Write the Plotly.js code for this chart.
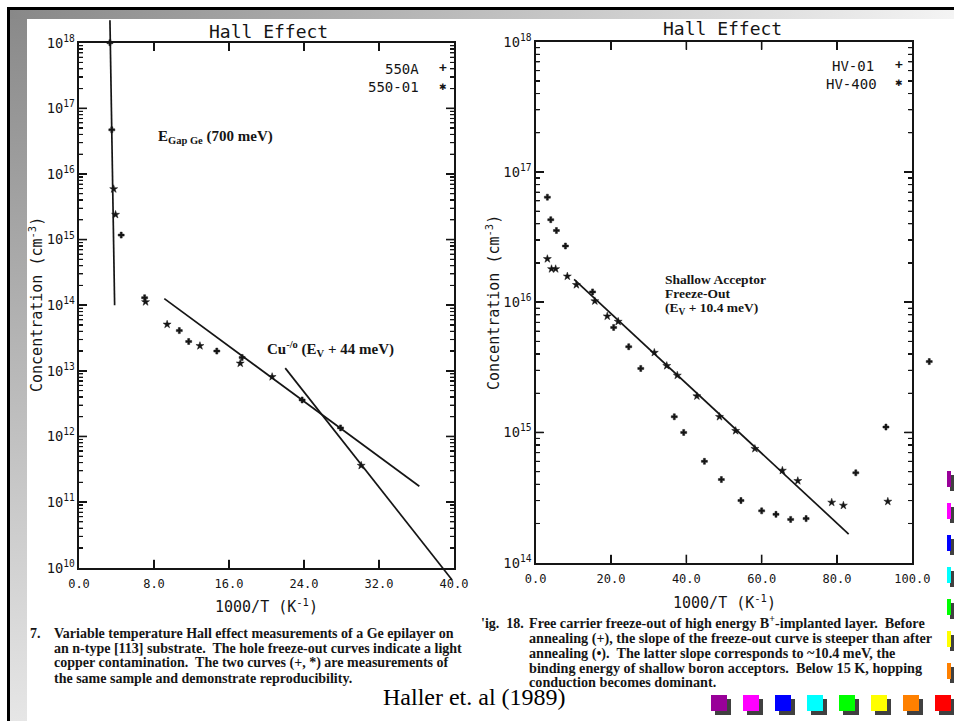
<!DOCTYPE html>
<html>
<head>
<meta charset="utf-8">
<script src="https://cdn.plot.ly/plotly-3.0.1.min.js"></script>
<style>
html,body{margin:0;padding:0;background:#fff;}
#deco{position:absolute;left:0;top:0;width:954px;height:721px;overflow:hidden;}
#deco div{position:absolute;}
#chart{position:absolute;left:0;top:0;width:954px;height:721px;}
</style>
</head>
<body>
<div id="deco"></div>
<div id="chart"></div>
<script>
// ---------------- DATA ----------------
// Left panel (Ge epilayer) : 1000/T (K^-1) vs concentration (cm^-3)
const leftPlusX  = [3.3, 3.5, 4.5, 7.0, 10.7, 11.7, 14.7, 17.4, 23.8, 27.9];
const leftPlusY  = [1.0e18, 4.7e16, 1.17e15, 1.3e14, 4.1e13, 2.8e13, 2.0e13, 1.6e13, 3.6e12, 1.35e12];
const leftStarX  = [3.7, 3.9, 7.1, 9.4, 12.9, 17.2, 20.6, 30.1];
const leftStarY  = [5.9e15, 2.4e15, 1.12e14, 5.1e13, 2.4e13, 1.3e13, 8.1e12, 3.6e11];
// fitted lines (left)
const gapLineX   = [3.3, 3.8];
const gapLineY   = [2.2e18, 1.0e14];
const cuLineX    = [9.1, 36.3];
const cuLineY    = [1.26e14, 1.74e11];
const steepLineX = [22.0, 39.8];
const steepLineY = [1.1e13, 6.5e9];

// Right panel (B+-implanted layer)
const hv01X  = [3.1, 4.0, 5.5, 7.9, 15.1, 20.7, 24.7, 27.9, 36.8, 39.3, 44.8, 49.3, 54.5, 60.0, 63.8, 67.7, 71.8, 85.0, 93.0, 104.5];
const hv01Y  = [6.4e16, 4.3e16, 3.55e16, 2.7e16, 1.2e16, 6.4e15, 4.55e15, 3.1e15, 1.32e15, 1.0e15, 6.0e14, 4.35e14, 3.0e14, 2.5e14, 2.35e14, 2.15e14, 2.18e14, 4.9e14, 1.1e15, 3.5e15];
const hv400X = [3.1, 4.2, 5.3, 8.4, 10.8, 15.7, 19.0, 21.9, 31.5, 34.8, 37.6, 42.8, 48.8, 53.1, 58.2, 65.5, 69.6, 78.6, 81.7, 93.5];
const hv400Y = [2.15e16, 1.8e16, 1.8e16, 1.58e16, 1.36e16, 1.02e16, 7.8e15, 7.1e15, 4.1e15, 3.25e15, 2.74e15, 1.9e15, 1.32e15, 1.03e15, 7.5e14, 5.1e14, 4.25e14, 2.9e14, 2.75e14, 2.95e14];
const acceptorLineX = [10.2, 83.1];
const acceptorLineY = [1.5e16, 1.66e14];

// tick values
const leftXTicks = [8, 16, 24, 32];
const rightXTicks = [20, 40, 60, 80];
const leftDecades = [10, 11, 12, 13, 14, 15, 16, 17, 18];
const rightDecades = [14, 15, 16, 17, 18];
const minorMultipliers = [2, 3, 4, 5, 6, 7, 8, 9];

// text
const xTitleText = '1000/T (K<sup>-1</sup>)';
const yTitleText = 'Concentration (cm<sup>-3</sup>)';
const leftCaption = [
  "Variable temperature Hall effect measurements of a Ge epilayer on",
  "an n-type [113] substrate.  The hole freeze-out curves indicate a light",
  "copper contamination.  The two curves (+, *) are measurements of",
  "the same sample and demonstrate reproducibility."
];
const rightCaption = [
  "Free carrier freeze-out of high energy B<sup>+</sup>-implanted layer.  Before",
  "annealing (+), the slope of the freeze-out curve is steeper than after",
  "annealing (•).  The latter slope corresponds to ~10.4 meV, the",
  "binding energy of shallow boron acceptors.  Below 15 K, hopping",
  "conduction becomes dominant."
];
const swatchColors = ['#990099', '#ff00ff', '#0000ff', '#00ffff', '#00ff00', '#ffff00', '#ff8000', '#ff0000'];

// ---------------- SLIDE DECORATION (HTML, behind the chart) ----------------
const deco = document.getElementById('deco');
function box(l, t, w, h, bg) {
  const d = document.createElement('div');
  d.style.left = l + 'px'; d.style.top = t + 'px'; d.style.width = w + 'px'; d.style.height = h + 'px';
  d.style.background = bg; deco.appendChild(d);
}
box(10, 10, 944, 9, 'linear-gradient(to right, #888888, #f4f4f4)');
box(10, 19, 17, 702, 'linear-gradient(to bottom, #8a8a8a, #e6e6e6)');
box(7, 7, 947, 3, '#000');
box(7, 7, 3, 714, '#000');
swatchColors.forEach((c, i) => {
  const x0 = 711 + 32 * i;
  box(x0 + 4, 699, 16, 16, '#404040');
  box(x0, 695, 16, 16, c);
});
swatchColors.slice(0, 7).forEach((c, i) => {
  const y0 = 471 + 32 * i;
  box(950, y0 + 4, 4, 16, '#404040');
  box(947, y0, 4, 16, c);
});

// ---------------- LAYOUT HELPERS ----------------
const W = 954, H = 721;
const px = x => x / W;
const py = y => 1 - y / H;
const MONO = 'DejaVu Sans Mono';
const SERIF = 'Liberation Serif';
const INK = '#151515';

const leftX = [px(79), px(454)], leftY = [py(567.7), py(42.7)];
const rightX = [px(535.7), px(912.3)], rightY = [py(562.7), py(41.7)];
const extY = [py(586), py(14)];
const extRX = [rightX[0], px(945)];
const leftRange = [10, 18], rightRange = [14, 18];
const leftXRange = [0, 40], rightXRange = [0, 100];
function extend(range, dom, ext) {
  const s = (range[1] - range[0]) / (dom[1] - dom[0]);
  return [range[0] + (ext[0] - dom[0]) * s, range[0] + (ext[1] - dom[0]) * s];
}

const axisBase = () => ({
  showline: true, linecolor: INK, linewidth: 2, mirror: 'ticks',
  ticks: 'inside', ticklen: 8, tickwidth: 1.6, tickcolor: INK, layer: 'above traces',
  showgrid: false, zeroline: false,
  tickfont: {family: MONO, size: 12, color: INK}
});
const minorY = () => ({ticks: 'inside', ticklen: 4, tickwidth: 1.2, tickcolor: INK, showgrid: false, dtick: 'D1'});

// ---------------- TICK MARKS (drawn on each frame, positioned in axis-domain units) ----------------
const shapes = [];
function tickLine(xref, yref, x0, x1, y0, y1, w) {
  shapes.push({type: 'line', layer: 'above', xref: xref, yref: yref, x0: x0, x1: x1, y0: y0, y1: y1,
               line: {color: INK, width: w}});
}
function yTicks(ax, xDom, yDom, range, decades, lenMajor, lenMinor) {
  const wpx = (xDom[1] - xDom[0]) * W;
  const xr = ax.x + ' domain', yr = ax.y + ' domain';
  const frac = v => (Math.log10(v) - range[0]) / (range[1] - range[0]);
  decades.forEach(k => {
    const vals = [[Math.pow(10, k), lenMajor, 1.6]];
    if (k < range[1]) minorMultipliers.forEach(m => vals.push([m * Math.pow(10, k), lenMinor, 1.1]));
    vals.forEach(([v, len, w]) => {
      const f = frac(v);
      if (f <= 0.001 || f >= 0.999) return;
      tickLine(xr, yr, 0, len / wpx, f, f, w);
      tickLine(xr, yr, 1 - len / wpx, 1, f, f, w);
    });
  });
}
function xTicks(ax, yDom, xRange, vals, len) {
  const hpx = (yDom[1] - yDom[0]) * H;
  const xr = ax.x + ' domain', yr = ax.y + ' domain';
  vals.forEach(v => {
    const f = (v - xRange[0]) / (xRange[1] - xRange[0]);
    tickLine(xr, yr, f, f, 0, len / hpx, 1.6);
    tickLine(xr, yr, f, f, 1 - len / hpx, 1, 1.6);
  });
}
yTicks({x: 'x', y: 'y'}, leftX, leftY, leftRange, leftDecades, 8, 4);
yTicks({x: 'x2', y: 'y2'}, rightX, rightY, rightRange, rightDecades, 8, 4);
xTicks({x: 'x', y: 'y'}, leftY, leftXRange, leftXTicks, 8);
xTicks({x: 'x2', y: 'y2'}, rightY, rightXRange, rightXTicks, 8);

// ---------------- TRACES ----------------
const mk = (sym, size) => ({symbol: sym, size: size, color: INK, line: {color: INK, width: 0.5}});
const traces = [
  {x: leftPlusX, y: leftPlusY, name: '550A', type: 'scatter', mode: 'markers', xaxis: 'x', yaxis: 'y', marker: mk('cross', 5), cliponaxis: false},
  {x: leftStarX, y: leftStarY, name: '550-01', type: 'scatter', mode: 'markers', xaxis: 'x', yaxis: 'y', marker: mk('star', 6), cliponaxis: false},
  {x: gapLineX, y: gapLineY, name: 'E gap', type: 'scatter', mode: 'lines', xaxis: 'x3', yaxis: 'y3', line: {color: INK, width: 1.7}},
  {x: cuLineX, y: cuLineY, name: 'Cu fit', type: 'scatter', mode: 'lines', xaxis: 'x3', yaxis: 'y3', line: {color: INK, width: 1.7}},
  {x: steepLineX, y: steepLineY, name: 'steep fit', type: 'scatter', mode: 'lines', xaxis: 'x3', yaxis: 'y3', line: {color: INK, width: 1.7}},
  {x: hv01X, y: hv01Y, name: 'HV-01', type: 'scatter', mode: 'markers', xaxis: 'x4', yaxis: 'y4', marker: mk('cross', 5), cliponaxis: false},
  {x: hv400X, y: hv400Y, name: 'HV-400', type: 'scatter', mode: 'markers', xaxis: 'x4', yaxis: 'y4', marker: mk('star', 6), cliponaxis: false},
  {x: acceptorLineX, y: acceptorLineY, name: 'acceptor fit', type: 'scatter', mode: 'lines', xaxis: 'x2', yaxis: 'y2', line: {color: INK, width: 1.7}}
];

// ---------------- ANNOTATIONS ----------------
const ann = [];
function txt(x, y, text, font, xanchor, angle) {
  ann.push({xref: 'paper', yref: 'paper', x: px(x), y: py(y), text: text, showarrow: false,
            xanchor: xanchor || 'left', yanchor: 'middle', font: font, textangle: angle || 0});
}
const monoF = s => ({family: MONO, size: s, color: INK});
const serifB = s => ({family: SERIF, size: s, color: INK, weight: 'bold'});

txt(268, 32, 'Hall Effect', monoF(18), 'center');
txt(722, 29, 'Hall Effect', monoF(18), 'center');
// axis titles
txt(266.5, 606, xTitleText, monoF(15), 'center');
txt(724, 602, xTitleText, monoF(15), 'center');
txt(36, 305, yTitleText, monoF(15), 'center', -90);
txt(493, 302, yTitleText, monoF(15), 'center', -90);
// legends
txt(421, 69, '550A', monoF(14), 'right');
txt(421, 87, '550-01', monoF(14), 'right');
txt(443, 68, '+', {family: MONO, size: 13, color: INK, weight: 'bold'}, 'center');
txt(443, 87, '✱', {family: 'DejaVu Sans', size: 9, color: INK}, 'center');
txt(876, 66, 'HV-01', monoF(14), 'right');
txt(879, 84, 'HV-400', monoF(14), 'right');
txt(899, 65, '+', {family: MONO, size: 13, color: INK, weight: 'bold'}, 'center');
txt(899, 83, '✱', {family: 'DejaVu Sans', size: 9, color: INK}, 'center');
// in-plot labels
txt(156, 137, 'E<sub>Gap Ge</sub> (700 meV)', serifB(15));
txt(265, 349, 'Cu<sup>-/o</sup> (E<sub>V</sub> + 44 meV)', serifB(15));
txt(663, 279, 'Shallow Acceptor', serifB(13.5));
txt(663, 293, 'Freeze-Out', serifB(13.5));
txt(663, 308, '(E<sub>V</sub> + 10.4 meV)', serifB(13.5));
// captions
txt(28, 633, '7.', serifB(14));
const leftYs = [633, 648, 663, 678];
leftCaption.forEach((t, i) => txt(52, leftYs[i], t, serifB(14)));
txt(479, 623, "'ig.  18.", serifB(14));
const rightYs = [622, 638, 653, 667.5, 682];
rightCaption.forEach((t, i) => txt(527, rightYs[i], t, serifB(14.2)));
txt(474, 697, 'Haller et. al (1989)', {family: SERIF, size: 24, color: '#000'}, 'center');

// ---------------- LAYOUT ----------------
const layout = {
  width: W, height: H,
  margin: {l: 0, r: 0, t: 0, b: 0},
  paper_bgcolor: 'rgba(0,0,0,0)', plot_bgcolor: 'rgba(0,0,0,0)',
  showlegend: false,
  xaxis: Object.assign(axisBase(), {domain: leftX, anchor: 'y', range: leftXRange, dtick: 8, tick0: 0, tickformat: '.1f', ticklabelstandoff: 4}),
  yaxis: Object.assign(axisBase(), {domain: leftY, anchor: 'x', type: 'log', range: leftRange, dtick: 1,
    exponentformat: 'power', tickfont: {family: MONO, size: 11, color: INK}, minor: minorY()}),
  xaxis2: Object.assign(axisBase(), {domain: rightX, anchor: 'y2', range: rightXRange, dtick: 20, tick0: 0, tickformat: '.1f', ticklabelstandoff: 4}),
  yaxis2: Object.assign(axisBase(), {domain: rightY, anchor: 'x2', type: 'log', range: rightRange, dtick: 1,
    exponentformat: 'power', tickfont: {family: MONO, size: 11, color: INK}, minor: minorY()}),
  xaxis3: {domain: leftX, anchor: 'y3', range: leftXRange, visible: false, showgrid: false, zeroline: false},
  yaxis3: {domain: extY, anchor: 'x3', type: 'log', range: extend(leftRange, leftY, extY), visible: false, showgrid: false, zeroline: false},
  xaxis4: {domain: extRX, anchor: 'y4', range: extend(rightXRange, rightX, extRX), visible: false, showgrid: false, zeroline: false},
  yaxis4: {domain: rightY, anchor: 'x4', type: 'log', range: rightRange, visible: false, showgrid: false, zeroline: false},
  annotations: ann,
  shapes: shapes
};

Plotly.newPlot('chart', traces, layout, {displayModeBar: false, staticPlot: true});
</script>
</body>
</html>
